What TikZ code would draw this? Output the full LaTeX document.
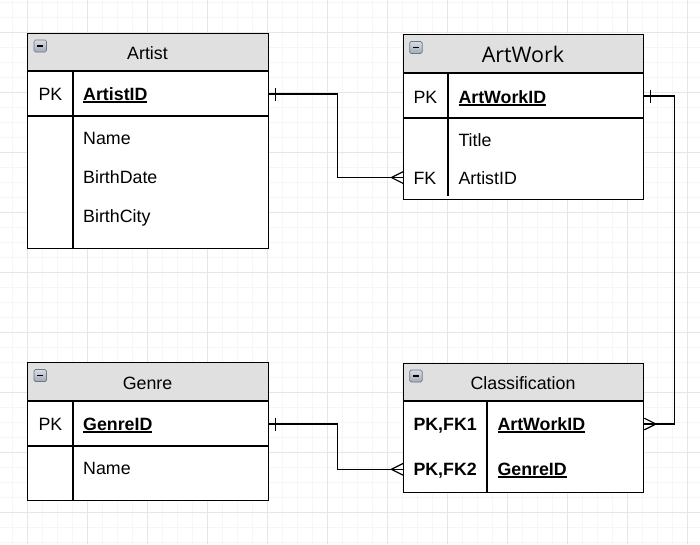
\documentclass[tikz,border=0pt]{standalone}
\usepackage{fontspec}
\setmainfont{Liberation Sans}
\newfontfamily\titlefont{Open Sans}
\definecolor{hdrgray}{HTML}{E0E0E0}
\definecolor{gridminor}{HTML}{F6F6F6}
\definecolor{gridmajor}{HTML}{E6E6E6}
\definecolor{icontop}{HTML}{D8DCE3}
\definecolor{iconbot}{HTML}{A3ABB8}
\definecolor{iconedge}{HTML}{6E7784}
\newcommand\bodyfnt{\fontsize{17.8}{21}\selectfont}
\newcommand\myul[1]{\setbox0\hbox{#1}\rlap{\rule[-2.6pt]{\wd0}{1.2pt}}\box0}
\tikzset{
  entity/.style={draw=black, line width=1.3pt, rectangle, inner sep=0pt, anchor=north west},
  divline/.style={draw=black, line width=1.1pt},
  rowline/.style={draw=black, line width=1.4pt},
  conn/.style={draw=black, line width=1.2pt},
  txt/.style={anchor=base west, inner sep=0pt, font=\bodyfnt},
  ttl/.style={anchor=base, inner sep=0pt, font=\bodyfnt},
  minus icon/.pic={
    \shade[top color=icontop, bottom color=iconbot, draw=iconedge, line width=0.7pt, rounded corners=1.5pt] (0,0) rectangle (12.5,12);
    \draw[black, line width=1.6pt] (3.3,6) -- (9.2,6);
  }
}
\begin{document}
\begin{tikzpicture}[x=1pt,y=-1pt]
\useasboundingbox (0,0) rectangle (700,544);
\fill[white] (0,0) rectangle (700,544);
% grid
\foreach \i in {0,...,47} \draw[gridminor, line width=0.8pt] (\i*15-2.5,0) -- (\i*15-2.5,544);
\foreach \i in {0,...,36} \draw[gridminor, line width=0.8pt] (0,\i*15+2) -- (700,\i*15+2);
\foreach \i in {0,...,11} \draw[gridmajor, line width=0.9pt] (\i*60+27.5,0) -- (\i*60+27.5,544);
\foreach \i in {0,...,8} \draw[gridmajor, line width=0.9pt] (0,\i*60+32) -- (700,\i*60+32);

% ===== Artist =====
\fill[white] (27,33) rectangle (268,248);
\fill[hdrgray] (27,33) rectangle (268,71);
\draw[divline] (27,71) -- (268,71);
\draw[rowline] (27,116) -- (268,116);
\draw[divline] (73,71) -- (73,248);
\node[entity, minimum width=241pt, minimum height=215pt] (artist) at (27,33) {};
\pic at (34,40) {minus icon};
\node[ttl] (artistT) at (147.5,59) {Artist};
\node[txt] (artistPK) at (38.3,100) {PK};
\node[txt] (artistID) at (83,100) {\myul{\textbf{ArtistID}}};
\node[txt] (artistName) at (83,144) {Name};
\node[txt] (artistBD) at (83,183) {BirthDate};
\node[txt] (artistBC) at (83,222) {BirthCity};

% ===== ArtWork =====
\fill[white] (403,34) rectangle (643,199);
\fill[hdrgray] (403,34) rectangle (643,73);
\draw[divline] (403,73) -- (643,73);
\draw[divline] (403,118) -- (643,118);
\draw[divline] (448,73) -- (448,196);
\node[entity, minimum width=240pt, minimum height=165pt] (artwork) at (403,34) {};
\pic at (409.7,41.5) {minus icon};
\node[anchor=base, inner sep=0pt, font=\titlefont\fontsize{21.5}{25}\selectfont] (artworkT) at (523,62.3) {ArtWork};
\node[txt] (artworkPK) at (413.3,103) {PK};
\node[txt] (artworkID) at (458.3,103) {\myul{\textbf{ArtWorkID}}};
\node[txt] (artworkTitle) at (458.3,146) {Title};
\node[txt] (artworkFK) at (413.3,184.5) {FK};
\node[txt] (artworkArtist) at (458.3,184.5) {ArtistID};

% ===== Genre =====
\fill[white] (27,362) rectangle (268,500);
\fill[hdrgray] (27,362) rectangle (268,401);
\draw[divline] (27,401) -- (268,401);
\draw[rowline] (27,446) -- (268,446);
\draw[divline] (73,401) -- (73,500);
\node[entity, minimum width=241pt, minimum height=138pt] (genre) at (27,362) {};
\pic at (34,369.5) {minus icon};
\node[ttl] (genreT) at (147.5,389) {Genre};
\node[txt] (genrePK) at (38.3,430) {PK};
\node[txt] (genreID) at (83,430) {\myul{\textbf{GenreID}}};
\node[txt] (genreName) at (83,474) {Name};

% ===== Classification =====
\fill[white] (403,363) rectangle (643,492);
\fill[hdrgray] (403,363) rectangle (643,401);
\draw[divline] (403,401) -- (643,401);
\draw[divline] (487,401) -- (487,492);
\node[entity, minimum width=240pt, minimum height=129pt] (classif) at (403,363) {};
\pic at (409.7,370) {minus icon};
\node[ttl] (classifT) at (523,389) {Classification};
\node[txt] (classifK1) at (413.3,430) {\textbf{PK,FK1}};
\node[txt] (classifA) at (497.3,430) {\myul{\textbf{ArtWorkID}}};
\node[txt] (classifK2) at (413.3,475) {\textbf{PK,FK2}};
\node[txt] (classifG) at (497.3,475) {\myul{\textbf{GenreID}}};

% ===== connector end points =====
\coordinate (c1a) at (artist.east |- 0,94);
\coordinate (c1b) at (artwork.west |- 0,177.5);
\coordinate (c2a) at (artwork.east |- 0,96);
\coordinate (c2b) at (classif.east |- 0,424);
\coordinate (c3a) at (genre.east |- 0,424);
\coordinate (c3b) at (classif.west |- 0,469.3);

% Artist -> ArtWork
\draw[conn] (c1a) -- ++(68,0) |- (c1b);
\draw[conn] ([xshift=6pt]c1a) ++(0,-6.5) -- ++(0,13);
\draw[conn] ([xshift=-11.6pt]c1b) -- ++(11.6,-5.8) ([xshift=-11.6pt]c1b) -- ++(11.6,5.8);

% ArtWork -> Classification
\draw[conn] (c2a) -- ++(30.3,0) |- (c2b);
\draw[conn] ([xshift=6pt]c2a) ++(0,-6.5) -- ++(0,13);
\draw[conn] ([xshift=11.6pt]c2b) -- ++(-11.6,-5.8) ([xshift=11.6pt]c2b) -- ++(-11.6,5.8);

% Genre -> Classification
\draw[conn] (c3a) -- ++(68,0) |- (c3b);
\draw[conn] ([xshift=6pt]c3a) ++(0,-6.5) -- ++(0,13);
\draw[conn] ([xshift=-11.6pt]c3b) -- ++(11.6,-5.8) ([xshift=-11.6pt]c3b) -- ++(11.6,5.8);
\end{tikzpicture}
\end{document}
